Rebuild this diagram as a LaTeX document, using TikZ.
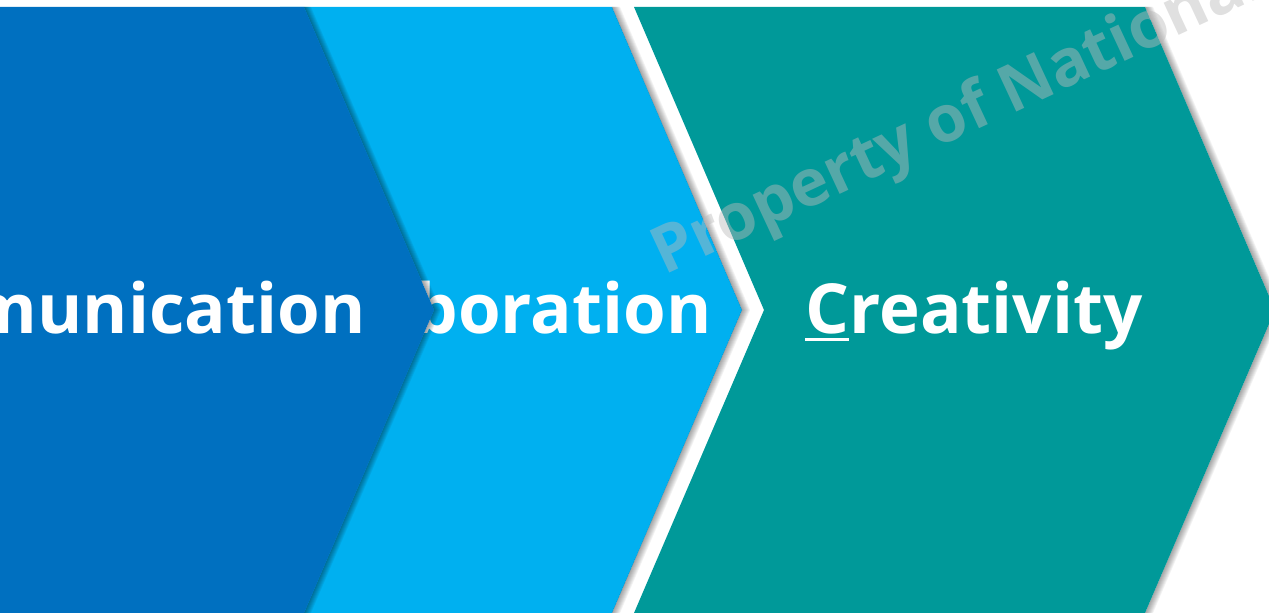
\documentclass[tikz,border=0pt]{standalone}
\usepackage{fontspec}
\newfontfamily\chevfont{Open Sans}

\definecolor{commblue}{HTML}{0070C0}
\definecolor{collabblue}{HTML}{00B0F0}
\definecolor{creatteal}{HTML}{009999}
\definecolor{markgray}{RGB}{187,187,187}

% underline one letter, as in C-reativity
\newsavebox\ulbox
\newcommand\ulletter[1]{\sbox\ulbox{#1}\rlap{\rule[-0.12em]{\wd\ulbox}{0.045em}}\usebox\ulbox}

\tikzset{
	chevtext/.style={font=\chevfont\bfseries\fontsize{34.5}{40}\selectfont, text=white, inner sep=0pt},
	marktext/.style={font=\chevfont\bfseries\fontsize{32.5}{36}\selectfont, text=markgray, text opacity=0.46, inner sep=0pt},
}

\begin{document}
\begin{tikzpicture}[x=0.5pt,y=0.5pt]
	\useasboundingbox (0,0) rectangle (1269,612);
	\clip (0,0) rectangle (1269,612);

	% Second arrow, its left part lies under the first one
	\fill[collabblue] (280,605) -- (612,605) -- (742,302) -- (612,-1) -- (280,-1) -- (410,302) -- cycle;
	\node[chevtext, anchor=base east] (collab) at (712,279) {Collaboration};
	\foreach \s in {1,...,8}											%soft shadow
		\fill[black,opacity=0.05] (612,605) -- (612+\s,605) -- (742+\s,302) -- (612+\s,-1) -- (612,-1) -- (742,302) -- cycle;

	% Third arrow
	\foreach \s in {1,...,8}											%soft shadow
		\fill[black,opacity=0.05] (1145,605) -- (1145+\s,605) -- (1275+\s,302) -- (1145+\s,-1) -- (1145,-1) -- (1275,302) -- cycle;
	\fill[creatteal] (634,605) -- (1145,605) -- (1275,302) -- (1145,-1) -- (634,-1) -- (764,302) -- cycle;
	\node[chevtext, anchor=base west] (creat) at (805,279) {\ulletter{C}reativity};

	% First arrow, on top of the second
	\foreach \s in {1,...,7}											%shadow on the light blue
		\fill[black,opacity=0.06] (304,605) -- (304+\s,605) -- (434+\s,302) -- (304+\s,-1) -- (304,-1) -- (434,302) -- cycle;
	\fill[commblue] (-200,605) -- (304,605) -- (434,302) -- (304,-1) -- (-200,-1) -- cycle;
	\node[chevtext, anchor=base east] (comm) at (366,279) {Communication};

	% Watermark over everything
	\node[marktext, rotate=25, anchor=base west] (mark) at (664,336) {Property of National};
\end{tikzpicture}
\end{document}
